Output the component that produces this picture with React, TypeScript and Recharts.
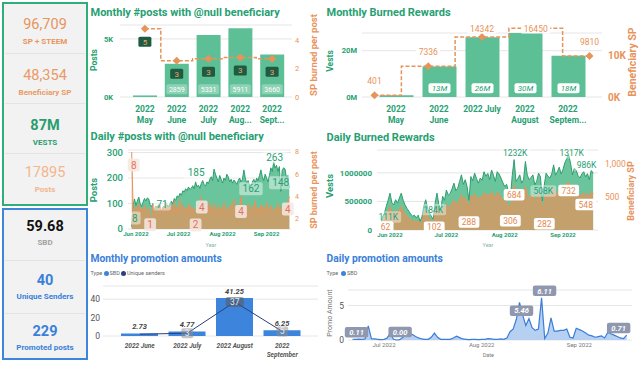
import React from "react";
import {
  ComposedChart,
  Bar,
  Line,
  Area,
  XAxis,
  YAxis,
  CartesianGrid,
  LabelList,
} from "recharts";

// ---------- data ----------
const months = ["May", "June", "July", "August", "September"];
const monthTicksPosts = [["2022", "May"], ["2022", "June"], ["2022", "July"], ["2022", "Aug..."], ["2022", "Sept..."]];
const monthTicksBurn = [["2022", "May"], ["2022", "June"], ["2022 July"], ["2022", "August"], ["2022", "Septem..."]];
const monthlyPosts = [134, 2859, 5331, 5911, 3660];
const monthlySpPerPost = [4.8, 2.55, 2.69, 2.78, 2.68];
const monthlyVests = [0.73e6, 13.2e6, 25.8e6, 29.9e6, 17.8e6];
const monthlyBenefSP = [401, 7336, 14342, 16450, 9810];

const promoMonths = ["2022 June", "2022 July", "2022 August", "2022 September"];
const promoTicks = [["2022 June"], ["2022 July"], ["2022 August"], ["2022", "September"]];
const promoSBD = [2.73, 4.77, 41.25, 6.25];
const promoSenders = [2, 3, 37, 5];

const monthStarts = ["2022-06-01", "2022-07-01", "2022-08-01", "2022-09-01"];
const monthStartNames = ["Jun 2022", "Jul 2022", "Aug 2022", "Sep 2022"];

// daily posts, starting 2022-05-29
const postsStart = "2022-05-29";
const dailyPosts = [
  8, 95, 118, 92, 110, 125, 100, 88, 105, 120,
  110, 122, 118, 95, 88, 100, 75, 90, 85, 95,
  80, 71, 85, 90, 78, 95, 88, 100, 110, 98,
  120, 112, 130, 125, 140, 132, 150, 145, 158, 150,
  165, 155, 160, 170, 158, 185, 165, 172, 160, 178,
  190, 175, 168, 185, 178, 195, 205, 190, 235, 215,
  200, 185, 210, 195, 180, 200, 190, 215, 205, 185,
  195, 180, 192, 185, 175, 190, 200, 185, 195, 232,
  200, 180, 190, 170, 162, 185, 195, 180, 200, 190,
  210, 232, 205, 190, 215, 200, 185, 210, 240, 225,
  263, 240, 250, 225, 245, 148, 230, 240, 235, 200,
  210, 160,
];
const dailySpPerPost = [
  8, 3.0, 2.6, 3.1, 2.8, 3.3, 2.7, 3.0, 2.5, 3.2,
  2.9, 2.6, 3.0, 1.1, 2.4, 3.3, 2.6, 3.1, 2.2, 2.9,
  3.2, 2.5, 3.0, 2.7, 3.5, 2.6, 3.0, 2.4, 3.2, 2.8,
  3.6, 2.7, 3.1, 2.5, 3.8, 2.9, 3.2, 2.6, 3.0, 2.3,
  3.4, 2.8, 3.1, 2.6, 3.0, 1.9, 2.8, 3.3, 2.7, 4.0,
  3.1, 2.5, 3.3, 2.8, 3.6, 2.6, 3.1, 2.4, 3.4, 2.9,
  2.6, 3.2, 2.3, 3.0, 2.7, 3.5, 2.8, 2.4, 3.1, 2.6,
  3.3, 2.9, 3.8, 2.6, 3.0, 2.5, 3.2, 4.0, 2.8, 2.4,
  3.1, 2.7, 3.4, 2.9, 2.3, 3.2, 2.8, 3.6, 2.6, 3.0,
  2.5, 3.3, 2.7, 3.1, 2.4, 3.5, 2.9, 2.6, 3.2, 2.8,
  2.5, 3.0, 2.6, 3.4, 2.9, 2.7, 3.1, 2.4, 3.3, 2.8,
  3.6, 4.0,
];

// daily burned rewards, starting 2022-05-27 (vests in K)
const burnStart = "2022-05-27";
const dailyVestsK = [
  111, 230, 290, 410, 520, 645, 480, 440, 530, 470,
  560, 645, 520, 440, 380, 330, 280, 240, 260, 210,
  260, 150, 230, 420, 530, 380, 300, 240, 184, 470,
  645, 440, 350, 590, 520, 700, 610, 640, 720, 820,
  690, 730, 850, 965, 800, 880, 760, 519, 935, 860,
  995, 900, 820, 910, 870, 1020, 940, 990, 880, 1050,
  960, 850, 1020, 980, 910, 830, 760, 800, 670, 551,
  950, 1232, 850, 900, 965, 820, 880, 1200, 960, 880,
  920, 965, 790, 850, 995, 930, 508, 780, 995, 940,
  910, 980, 1140, 960, 1020, 1100, 980, 1060, 1180, 1250,
  1317, 1170, 965, 1080, 1050, 950, 910, 980, 1020, 930,
  986, 880, 1050, 990,
];
const dailyBenefSP = [
  62, 128, 161, 228, 289, 358, 266, 244, 294, 261,
  311, 358, 289, 244, 211, 183, 155, 133, 144, 117,
  144, 83, 128, 233, 294, 211, 167, 133, 102, 261,
  358, 244, 194, 327, 289, 389, 339, 355, 400, 455,
  383, 405, 472, 536, 444, 488, 422, 288, 519, 477,
  552, 500, 455, 505, 483, 566, 522, 549, 488, 583,
  533, 472, 566, 544, 505, 461, 422, 444, 372, 306,
  527, 684, 472, 500, 536, 455, 488, 666, 533, 488,
  511, 536, 438, 472, 552, 516, 282, 433, 552, 522,
  505, 544, 633, 533, 566, 611, 544, 588, 655, 694,
  732, 649, 536, 599, 583, 527, 505, 544, 566, 516,
  548, 488, 583, 549,
];

// daily promotion SBD, starting 2022-06-21
const promoStart = "2022-06-21";
const dailyPromo = [
  0.11, 0.1, 0.12, 0.1, 0.15, 2.05, 0.2, 0.15, 0.1, 0.05,
  0.1, 0.3, 1.0, 0.1, 0.0, 0.05, 0.4, 0.7, 1.0, 0.8,
  0.5, 0.3, 0.15, 0.1, 0.1, 0.4, 1.0, 0.4, 0.1, 0.1,
  0.1, 0.1, 0.3, 0.55, 0.35, 0.15, 0.1, 0.05, 0.1, 0.1,
  0.05, 0.1, 0.1, 0.2, 0.15, 0.1, 0.1, 0.15, 0.1, 0.3,
  1.2, 1.6, 3.0, 5.46, 3.6, 2.1, 3.1, 1.8, 1.4, 1.6,
  6.11, 0.2, 1.0, 3.2, 1.3, 1.3, 1.4, 1.4, 1.6, 0.4,
  0.3, 1.7, 1.5, 1.3, 1.0, 0.7, 0.6, 0.4, 0.5, 0.6,
  0.3, 1.1, 0.9, 0.7, 0.5, 0.3, 0.2, 0.71,
];

const kpiGreen = [
  { value: "96,709", label: "SP + STEEM", color: "#e8955d", weight: 400 },
  { value: "48,354", label: "Beneficiary SP", color: "#e99a66", weight: 400 },
  { value: "87M", label: "VESTS", color: "#2a9d6f", weight: 700 },
  { value: "17895", label: "Posts", color: "#f2b68e", weight: 400 },
];
const kpiBlue = [
  { value: "59.68", label: "SBD", color: "#111", labelColor: "#a3a3a3" },
  { value: "40", label: "Unique Senders", color: "#3a80d9", labelColor: "#3a80d9" },
  { value: "229", label: "Promoted posts", color: "#3a80d9", labelColor: "#3a80d9" },
];

// ---------- styles ----------
const FONT = "Roboto, 'Open Sans', sans-serif";
const GREEN_TXT = "#26a072";
const BAR_GREEN = "#5cbf96";
const AREA_GREEN = "#6ac49c";
const AREA_STROKE = "#2e9e6f";
const ORANGE = "#e8935a";
const SALMON = "#e6705f";
const BLUE = "#3a80d9";
const NAVY = "#2d3f7d";
const GRID = "#e6e6e6";

const DAY = 86400000;
const dayIndex = (start: string, d: string) => Math.round((Date.parse(d) - Date.parse(start)) / DAY);

function Txt({ x, y, anchor = "middle", rotate = 0, style = {}, children }: any) {
  const w = 300;
  const left = anchor === "middle" ? x - w / 2 : anchor === "start" ? x : x - w;
  return (
    <div
      style={{
        position: "absolute",
        left,
        top: y - 10,
        width: w,
        height: 20,
        lineHeight: "20px",
        textAlign: anchor === "middle" ? "center" : anchor === "start" ? "left" : "right",
        whiteSpace: "nowrap",
        transform: rotate ? `rotate(${rotate}deg)` : undefined,
        transformOrigin: `${x - left}px 10px`,
        pointerEvents: "none",
        ...style,
      }}
    >
      {children}
    </div>
  );
}

const pick = (p: any) => {
  const vb = p.viewBox || {};
  return {
    x: p.x ?? vb.x,
    y: p.y ?? vb.y,
    width: p.width ?? vb.width ?? 0,
    height: p.height ?? vb.height ?? 0,
    value: p.value,
    index: p.index,
  };
};

function MultiTick(p: any, lines: string[], style: any, gap: number) {
  if (!lines) return null;
  return (
    <text x={p.x} y={p.y} textAnchor="middle" fontFamily={FONT} {...style}>
      {lines.map((l, k) => (
        <tspan key={k} x={p.x} dy={k === 0 ? "0.8em" : gap}>
          {l}
        </tspan>
      ))}
    </text>
  );
}

const Diamond = (p: any) => {
  const { cx, cy, index } = p;
  if (cx == null || cy == null) return <g key={index} />;
  const r = 4;
  return <path key={index} d={`M${cx},${cy - r}L${cx + r},${cy}L${cx},${cy + r}L${cx - r},${cy}Z`} fill={ORANGE} />;
};

// label placed at chosen points (offsets from the point)
function pointLabels(cfg: number[][], o: any) {
  return (p: any) => {
    const q = pick(p);
    const c = cfg.find((k) => k[0] === q.index);
    if (!c || q.x == null) return null;
    const txt = o.fmt(Number(q.value));
    const w = txt.length * o.size * 0.58 + 6;
    const h = o.size + 3;
    const cx = q.x + c[1];
    const cy = q.y + c[2];
    return (
      <g key={`l-${q.index}`}>
        {o.box && <rect x={cx - w / 2} y={cy - h / 2} width={w} height={h} rx={2} fill={o.box} />}
        <text
          x={cx}
          y={cy}
          dy="0.36em"
          textAnchor="middle"
          fontSize={o.size}
          fill={o.color}
          fontFamily={FONT}
          fontStyle={o.italic ? "italic" : "normal"}
          fontWeight={o.bold ? 700 : 400}
        >
          {txt}
        </text>
      </g>
    );
  };
}

// ---------- chart data tables ----------
const monthlyA = months.map((m, i) => ({ m, posts: monthlyPosts[i], spp: monthlySpPerPost[i] }));
const monthlyB = months.map((m, i) => ({ m, vests: monthlyVests[i], sp: monthlyBenefSP[i] }));
const promoData = promoMonths.map((m, i) => ({ m, sbd: promoSBD[i], senders: promoSenders[i] }));
const postsDaily = dailyPosts.map((v, i) => ({ i, posts: v, spp: dailySpPerPost[i] }));
const burnDaily = dailyVestsK.map((v, i) => ({ i, vests: v, sp: dailyBenefSP[i] }));
const promoDaily = dailyPromo.map((v, i) => ({ i, sbd: v }));

const postsTickIdx = monthStarts.map((d) => dayIndex(postsStart, d));
const burnTickIdx = monthStarts.map((d) => dayIndex(burnStart, d));
const promoTickIdx = monthStarts.slice(1).map((d) => dayIndex(promoStart, d));
const tickName = (idx: number[], names: string[]) => (v: number) => names[idx.indexOf(v)] ?? "";

const noLine = { axisLine: false, tickLine: false, tickSize: 0 } as const;

// ---------- charts ----------
function MonthlyPosts() {
  const barLabel = (p: any) => {
    const q = pick(p);
    if (q.value < 1000) return null;
    const cx = q.x + q.width / 2;
    const cy = q.y + q.height - 7.7;
    return (
      <g key={`b-${q.index}`}>
        <rect x={cx - 10.5} y={cy - 5} width={21} height={10} rx={1.5} fill="rgba(255,255,255,0.3)" />
        <text x={cx} y={cy} dy="0.36em" textAnchor="middle" fontSize={7} fill="#fff" fontFamily={FONT}>
          {q.value}
        </text>
      </g>
    );
  };
  const lineLabel = (p: any) => {
    const q = pick(p);
    if (q.x == null) return null;
    const cy = q.y + 13;
    return (
      <g key={`s-${q.index}`}>
        <rect x={q.x - 6.5} y={cy - 5} width={13} height={10} rx={1.5} fill="#1e5b40" />
        <text x={q.x} y={cy} dy="0.36em" textAnchor="middle" fontSize={8} fill="#f0a46e" fontFamily={FONT}>
          {Math.round(q.value)}
        </text>
      </g>
    );
  };
  return (
    <div style={{ position: "absolute", left: 88, top: 0 }}>
      <ComposedChart width={230} height={128} data={monthlyA} margin={{ top: 25, right: 6, bottom: 5, left: 5 }}>
        <CartesianGrid vertical={false} yAxisId="l" stroke={GRID} />
        <XAxis
          dataKey="m"
          height={26}
          padding={{ left: 9, right: 4 }}
          interval={0}
          {...noLine}
          tickMargin={8}
          tick={(p: any) => MultiTick(p, monthTicksPosts[p.index], { fontSize: 8.5, fontWeight: 700, fill: GREEN_TXT }, 11)}
        />
        <YAxis
          yAxisId="l"
          width={27}
          domain={[0, 6200]}
          ticks={[0, 5000]}
          tickFormatter={(v: number) => `${v / 1000}K`}
          {...noLine}
          tickMargin={7}
          tick={{ fontSize: 7.5, fontWeight: 700, fill: GREEN_TXT, fontFamily: FONT }}
        />
        <YAxis
          yAxisId="r"
          orientation="right"
          width={20}
          domain={[0, 5.06]}
          ticks={[0, 2, 4]}
          {...noLine}
          tickMargin={3}
          tick={{ fontSize: 7.5, fill: ORANGE, fontFamily: FONT }}
        />
        <Bar yAxisId="l" dataKey="posts" fill={BAR_GREEN} barSize={24} isAnimationActive={false}>
          <LabelList dataKey="posts" content={barLabel} />
        </Bar>
        <Line
          yAxisId="r"
          dataKey="spp"
          type="step"
          stroke={ORANGE}
          strokeWidth={1.5}
          strokeDasharray="4 2"
          dot={Diamond}
          isAnimationActive={false}
        >
          <LabelList dataKey="spp" content={lineLabel} />
        </Line>
      </ComposedChart>
    </div>
  );
}

function MonthlyBurned() {
  const barLabel = (p: any) => {
    const q = pick(p);
    if (q.value < 5e6) return null;
    const cx = q.x + q.width / 2;
    const cy = q.y + q.height - 8.7;
    return (
      <g key={`v-${q.index}`}>
        <rect x={cx - 11} y={cy - 5} width={22} height={10} rx={2} fill="#fff" />
        <text x={cx} y={cy} dy="0.36em" textAnchor="middle" fontSize={8} fontStyle="italic" fill={GREEN_TXT} fontFamily={FONT}>
          {`${Math.round(q.value / 1e6)}M`}
        </text>
      </g>
    );
  };
  const top = 28;
  const lineLabel = (p: any) => {
    const q = pick(p);
    if (q.x == null) return null;
    const cy = Math.max(q.y - 14, top + 0.5);
    const txt = String(q.value);
    const w = txt.length * 5 + 4;
    return (
      <g key={`sp-${q.index}`}>
        <rect x={q.x - w / 2} y={cy - 5} width={w} height={10} fill="#fff" />
        <text x={q.x} y={cy} dy="0.36em" textAnchor="middle" fontSize={8.5} fill={ORANGE} fontFamily={FONT}>
          {txt}
        </text>
      </g>
    );
  };
  return (
    <div style={{ position: "absolute", left: 318, top: 0, width: 322, height: 128 }}>
      <div style={{ position: "absolute", left: 0, top: 0 }}>
        <ComposedChart width={322} height={128} data={monthlyB} margin={{ top: 33, right: 38, bottom: 5, left: 4 }}>
          <CartesianGrid vertical={false} yAxisId="l" stroke={GRID} />
          <XAxis
            dataKey="m"
            height={26}
            padding={{ left: 12.5, right: 12.5 }}
            interval={0}
            {...noLine}
            tickMargin={8}
            tick={(p: any) => MultiTick(p, monthTicksBurn[p.index], { fontSize: 8.5, fontWeight: 700, fill: GREEN_TXT }, 11)}
          />
          <YAxis
            yAxisId="l"
            width={40}
            domain={[0, 27.65e6]}
            allowDataOverflow
            ticks={[0, 20e6]}
            tickFormatter={(v: number) => `${v / 1e6}M`}
            {...noLine}
            tickMargin={5}
            tick={{ fontSize: 7.5, fontWeight: 700, fill: GREEN_TXT, fontFamily: FONT }}
          />
          <Bar yAxisId="l" dataKey="vests" fill={BAR_GREEN} barSize={34} isAnimationActive={false}>
            <LabelList dataKey="vests" content={barLabel} />
          </Bar>
        </ComposedChart>
      </div>
      <div style={{ position: "absolute", left: 0, top: 0 }}>
        <ComposedChart width={322} height={128} data={monthlyB} margin={{ top, right: 4, bottom: 31, left: 44 }}>
          <XAxis dataKey="m" hide padding={{ left: 12.5, right: 12.5 }} />
          <YAxis
            yAxisId="r"
            orientation="right"
            width={34}
            domain={[0, 16500]}
            ticks={[0, 10000]}
            tickFormatter={(v: number) => `${v / 1000}K`}
            {...noLine}
            tickMargin={6}
            tick={{ fontSize: 10, fontWeight: 700, fill: ORANGE, fontFamily: FONT }}
          />
          <Line
            yAxisId="r"
            dataKey="sp"
            type="step"
            stroke={ORANGE}
            strokeWidth={1.5}
            strokeDasharray="4 2"
            dot={Diamond}
            isAnimationActive={false}
          >
            <LabelList dataKey="sp" content={lineLabel} />
          </Line>
        </ComposedChart>
      </div>
    </div>
  );
}

function DailyPosts() {
  const greenLbl = pointLabels(
    [[0, 3, -9], [21, 0.5, -7], [45, 0.5, -9], [84, 0, 1], [100, 1, -5], [105, 0, -8.6]],
    { fmt: (v: number) => String(v), size: 10, color: GREEN_TXT, box: "rgba(255,255,255,0.45)" }
  );
  const orangeLbl = pointLabels(
    [[0, 2, 13], [13, 0, -4], [45, 0, 5], [49, 0.5, 10.5], [77, 0, 15], [110, 0, 8]],
    { fmt: (v: number) => String(Math.round(v)), size: 10, color: SALMON, box: "rgba(246,232,226,0.85)" }
  );
  return (
    <div style={{ position: "absolute", left: 88, top: 128 }}>
      <ComposedChart width={230} height={122} data={postsDaily} margin={{ top: 22, right: 4, bottom: 1, left: 4 }}>
        <CartesianGrid vertical={false} yAxisId="l" stroke={GRID} />
        <XAxis
          type="number"
          dataKey="i"
          domain={[-2.6, 112.2]}
          allowDataOverflow
          ticks={postsTickIdx}
          tickFormatter={tickName(postsTickIdx, monthStartNames)}
          height={20}
          {...noLine}
          tickMargin={3}
          tick={{ fontSize: 6, fontWeight: 700, fill: GREEN_TXT, fontFamily: FONT }}
        />
        <YAxis
          yAxisId="l"
          width={36}
          domain={[0, 310]}
          ticks={[0, 100, 200, 300]}
          {...noLine}
          tickMargin={5}
          tick={{ fontSize: 9.5, fontWeight: 500, fill: GREEN_TXT, fontFamily: FONT }}
        />
        <YAxis
          yAxisId="r"
          orientation="right"
          width={23}
          domain={[1.08, 8.18]}
          allowDataOverflow
          ticks={[2, 4, 6, 8]}
          {...noLine}
          tickMargin={4}
          tick={{ fontSize: 7, fill: ORANGE, fontFamily: FONT }}
        />
        <Area
          yAxisId="l"
          dataKey="posts"
          type="linear"
          stroke={AREA_STROKE}
          strokeWidth={1}
          fill={AREA_GREEN}
          fillOpacity={1}
          dot={false}
          activeDot={false}
          isAnimationActive={false}
        >
          <LabelList dataKey="posts" content={greenLbl} />
        </Area>
        <Area
          yAxisId="r"
          dataKey="spp"
          type="linear"
          stroke={ORANGE}
          strokeWidth={1}
          fill={ORANGE}
          fillOpacity={0.72}
          dot={false}
          activeDot={false}
          isAnimationActive={false}
        >
          <LabelList dataKey="spp" content={orangeLbl} />
        </Area>
      </ComposedChart>
    </div>
  );
}

function DailyBurned() {
  const greenLbl = pointLabels(
    [[0, 7.7, -6.6], [28, 0, -10], [71, 1, -6.7], [86, 1, -10], [100, 3, -2], [110, -1, -8.5]],
    { fmt: (v: number) => `${v}K`, size: 8.5, color: GREEN_TXT, box: "rgba(255,255,255,0.4)" }
  );
  const orangeLbl = pointLabels(
    [[0, 5, 1], [28, 1, 4], [47, 0, 11], [69, 0, 11], [71, 0, 10], [86, 2, 12.4], [100, 0, 9], [110, -1.7, 10.7]],
    { fmt: (v: number) => String(v), size: 8.5, color: "#e38a52", box: "#ffffff" }
  );
  return (
    <div style={{ position: "absolute", left: 318, top: 128 }}>
      <ComposedChart width={322} height={122} data={burnDaily} margin={{ top: 22, right: 4, bottom: 1, left: 4 }}>
        <CartesianGrid vertical={false} yAxisId="l" stroke={GRID} />
        <XAxis
          type="number"
          dataKey="i"
          domain={[-1.9, 115.6]}
          allowDataOverflow
          ticks={burnTickIdx}
          tickFormatter={tickName(burnTickIdx, monthStartNames)}
          height={19}
          {...noLine}
          tickMargin={3}
          tick={{ fontSize: 6, fontWeight: 700, fill: GREEN_TXT, fontFamily: FONT }}
        />
        <YAxis
          yAxisId="l"
          width={55}
          domain={[0, 1400]}
          ticks={[0, 500, 1000]}
          tickFormatter={(v: number) => String(v * 1000)}
          {...noLine}
          tickMargin={5}
          tick={{ fontSize: 8, fontWeight: 700, fill: GREEN_TXT, fontFamily: FONT }}
        />
        <YAxis
          yAxisId="r"
          orientation="right"
          width={38}
          domain={[0, 1210]}
          ticks={[500, 1000]}
          tickFormatter={(v: number) => v.toLocaleString("en-US")}
          {...noLine}
          tickMargin={7}
          tick={{ fontSize: 8.5, fill: ORANGE, fontFamily: FONT }}
        />
        <Area
          yAxisId="l"
          dataKey="vests"
          type="linear"
          stroke={AREA_STROKE}
          strokeWidth={1}
          fill={AREA_GREEN}
          fillOpacity={1}
          dot={false}
          activeDot={false}
          isAnimationActive={false}
        >
          <LabelList dataKey="vests" content={greenLbl} />
        </Area>
        <Area
          yAxisId="r"
          dataKey="sp"
          type="linear"
          stroke={ORANGE}
          strokeWidth={1}
          fill={ORANGE}
          fillOpacity={0.72}
          dot={false}
          activeDot={false}
          isAnimationActive={false}
        >
          <LabelList dataKey="sp" content={orangeLbl} />
        </Area>
      </ComposedChart>
    </div>
  );
}

function MonthlyPromo() {
  const barLabel = (p: any) => {
    const q = pick(p);
    const cx = q.x + q.width / 2;
    return (
      <text key={`pb-${q.index}`} x={cx} y={q.y - 7} dy="0.36em" textAnchor="middle" fontSize={7.5} fontStyle="italic" fontWeight={700} fill="#444" fontFamily={FONT}>
        {q.value}
      </text>
    );
  };
  const lineLabel = (p: any) => {
    const q = pick(p);
    if (q.index === 0 || q.x == null) return null;
    const big = q.value >= 10;
    const w = big ? 18 : 12;
    return (
      <g key={`pl-${q.index}`}>
        <rect x={q.x - w / 2} y={q.y - 5} width={w} height={10} rx={2} fill={big ? "rgba(90,90,90,0.55)" : "rgba(140,140,140,0.5)"} />
        <text x={q.x} y={q.y} dy="0.36em" textAnchor="middle" fontSize={8.5} fill="#eaeaea" fontFamily={FONT}>
          {q.value}
        </text>
      </g>
    );
  };
  return (
    <div style={{ position: "absolute", left: 88, top: 248 }}>
      <ComposedChart width={232} height={120} data={promoData} margin={{ top: 38, right: 2, bottom: 2, left: 0 }}>
        <CartesianGrid vertical={false} stroke={GRID} />
        <XAxis
          dataKey="m"
          height={30}
          padding={{ left: 13, right: 12 }}
          interval={0}
          {...noLine}
          tickMargin={7}
          tick={(p: any) => MultiTick(p, promoTicks[p.index], { fontSize: 6.5, fontWeight: 700, fontStyle: "italic", fill: "#555" }, 8.3)}
        />
        <YAxis
          width={15}
          domain={[0, 54.3]}
          ticks={[0, 20, 40]}
          {...noLine}
          tickMargin={3}
          tick={{ fontSize: 8.5, fill: "#555", fontFamily: FONT }}
        />
        <Bar dataKey="sbd" fill="#3c84dc" barSize={37} isAnimationActive={false}>
          <LabelList dataKey="sbd" content={barLabel} />
        </Bar>
        <Line dataKey="senders" type="linear" stroke={NAVY} strokeWidth={1} dot={false} activeDot={false} isAnimationActive={false}>
          <LabelList dataKey="senders" content={lineLabel} />
        </Line>
      </ComposedChart>
    </div>
  );
}

function DailyPromo() {
  const lbl = pointLabels(
    [[0, 4, -7], [14, 3.5, -8], [53, 2, 8.4], [60, 3, -7], [87, -8, -7]],
    { fmt: (v: number) => v.toFixed(2), size: 7.5, color: "#fff", box: "#8f98ae", italic: true, bold: true }
  );
  return (
    <div style={{ position: "absolute", left: 318, top: 248 }}>
      <ComposedChart width={322} height={120} data={promoDaily} margin={{ top: 42, right: 8, bottom: 10, left: 2 }}>
        <CartesianGrid vertical={false} stroke={GRID} />
        <XAxis
          type="number"
          dataKey="i"
          domain={[-1.43, 88.7]}
          allowDataOverflow
          ticks={promoTickIdx}
          tickFormatter={tickName(promoTickIdx, monthStartNames.slice(1))}
          height={18}
          {...noLine}
          tickMargin={3}
          tick={{ fontSize: 6, fill: "#777", fontFamily: FONT }}
        />
        <YAxis
          width={28}
          domain={[0, 7.25]}
          ticks={[0, 5]}
          {...noLine}
          tickMargin={4}
          tick={{ fontSize: 8.5, fill: "#555", fontFamily: FONT }}
        />
        <Area
          dataKey="sbd"
          type="linear"
          stroke="#3b7dd8"
          strokeWidth={1.2}
          fill="#a9c8ef"
          fillOpacity={0.85}
          dot={false}
          activeDot={false}
          isAnimationActive={false}
        >
          <LabelList dataKey="sbd" content={lbl} />
        </Area>
      </ComposedChart>
    </div>
  );
}

function KpiPanel() {
  const gTops = [25, 76, 126, 173];
  const bTops = [227, 280.7, 331.7];
  const divider = (y: number) => (
    <div key={`d${y}`} style={{ position: "absolute", left: 5, top: y, width: 80, height: 1, background: "#e3e3e3" }} />
  );
  return (
    <>
      <div style={{ position: "absolute", left: 2, top: 2, width: 86, height: 204, boxSizing: "border-box", border: "2px solid #2fad7b", background: "#f2f2f2" }} />
      <div style={{ position: "absolute", left: 2, top: 208, width: 86, height: 152, boxSizing: "border-box", border: "2px solid #3d86dc", background: "#f2f2f2" }} />
      {[53, 103, 153, 260, 313].map(divider)}
      {kpiGreen.map((k, i) => (
        <React.Fragment key={k.label}>
          <Txt x={45} y={gTops[i]} style={{ fontSize: 14.5, fontWeight: k.weight, color: k.color }}>{k.value}</Txt>
          <Txt x={45} y={gTops[i] + 17} style={{ fontSize: 8, fontWeight: 700, color: k.color }}>{k.label}</Txt>
        </React.Fragment>
      ))}
      {kpiBlue.map((k, i) => (
        <React.Fragment key={k.label}>
          <Txt x={45} y={bTops[i]} style={{ fontSize: 14.5, fontWeight: 700, color: k.color }}>{k.value}</Txt>
          <Txt x={45} y={bTops[i] + 16.3} style={{ fontSize: 8, fontWeight: 700, color: k.labelColor }}>{k.label}</Txt>
        </React.Fragment>
      ))}
    </>
  );
}

export default function App() {
  const gTitle = { fontSize: 11, fontWeight: 700, color: GREEN_TXT };
  const bTitle = { fontSize: 10.3, fontWeight: 700, color: BLUE };
  const small = { fontSize: 5.5, color: "#666" };
  return (
    <div style={{ position: "absolute", left: 0, top: 0, width: 640, height: 368, background: "#fff", overflow: "hidden", fontFamily: FONT }}>
      <KpiPanel />
      <MonthlyPosts />
      <MonthlyBurned />
      <DailyPosts />
      <DailyBurned />
      <MonthlyPromo />
      <DailyPromo />

      <Txt x={90.5} y={13.3} anchor="start" style={gTitle}>Monthly #posts with @null beneficiary</Txt>
      <Txt x={326.5} y={13} anchor="start" style={gTitle}>Monthly Burned Rewards</Txt>
      <Txt x={90.5} y={137.3} anchor="start" style={gTitle}>Daily #posts with @null beneficiary</Txt>
      <Txt x={326.5} y={137.5} anchor="start" style={gTitle}>Daily Burned Rewards</Txt>
      <Txt x={90.5} y={259} anchor="start" style={bTitle}>Monthly promotion amounts</Txt>
      <Txt x={326.5} y={259} anchor="start" style={bTitle}>Daily promotion amounts</Txt>

      <Txt x={94} y={60} rotate={-90} style={{ fontSize: 8.5, fontWeight: 700, color: GREEN_TXT }}>Posts</Txt>
      <Txt x={313.5} y={55} rotate={-90} style={{ fontSize: 9.5, fontWeight: 700, color: ORANGE }}>SP burned per post</Txt>
      <Txt x={330} y={61} rotate={-90} style={{ fontSize: 8.5, fontWeight: 700, color: GREEN_TXT }}>Vests</Txt>
      <Txt x={633} y={62} rotate={-90} style={{ fontSize: 10.5, fontWeight: 700, color: ORANGE }}>Beneficiary SP</Txt>

      <Txt x={94} y={190} rotate={-90} style={{ fontSize: 9.5, fontWeight: 700, color: GREEN_TXT }}>Posts</Txt>
      <Txt x={313.5} y={190} rotate={-90} style={{ fontSize: 9, fontWeight: 700, color: ORANGE }}>SP burned per post</Txt>
      <Txt x={211} y={245.3} style={{ fontSize: 5.5, color: "#86b8a3" }}>Year</Txt>
      <Txt x={330} y={186} rotate={-90} style={{ fontSize: 9.5, fontWeight: 700, color: GREEN_TXT }}>Vests</Txt>
      <Txt x={631} y={191} rotate={-90} style={{ fontSize: 9, fontWeight: 700, color: ORANGE }}>Beneficiary SP</Txt>
      <Txt x={488} y={245.3} style={{ fontSize: 5.5, color: "#86b8a3" }}>Year</Txt>

      {/* legends */}
      <Txt x={90.5} y={273} anchor="start" style={small}>Type</Txt>
      <div style={{ position: "absolute", left: 103.5, top: 270.5, width: 5, height: 5, borderRadius: 3, background: "#3c84dc" }} />
      <Txt x={109.5} y={273} anchor="start" style={small}>SBD</Txt>
      <div style={{ position: "absolute", left: 120.5, top: 270.5, width: 5, height: 5, borderRadius: 3, background: NAVY }} />
      <Txt x={127} y={273} anchor="start" style={small}>Unique senders</Txt>

      <Txt x={326.5} y={273} anchor="start" style={small}>Type</Txt>
      <div style={{ position: "absolute", left: 341, top: 270.5, width: 5, height: 5, borderRadius: 3, background: "#3c84dc" }} />
      <Txt x={347} y={273} anchor="start" style={small}>SBD</Txt>
      <Txt x={330} y={313} rotate={-90} style={{ fontSize: 7, color: "#777" }}>Promo Amount</Txt>
      <Txt x={488.3} y={354.7} style={{ fontSize: 5.5, color: "#777" }}>Date</Txt>
    </div>
  );
}
